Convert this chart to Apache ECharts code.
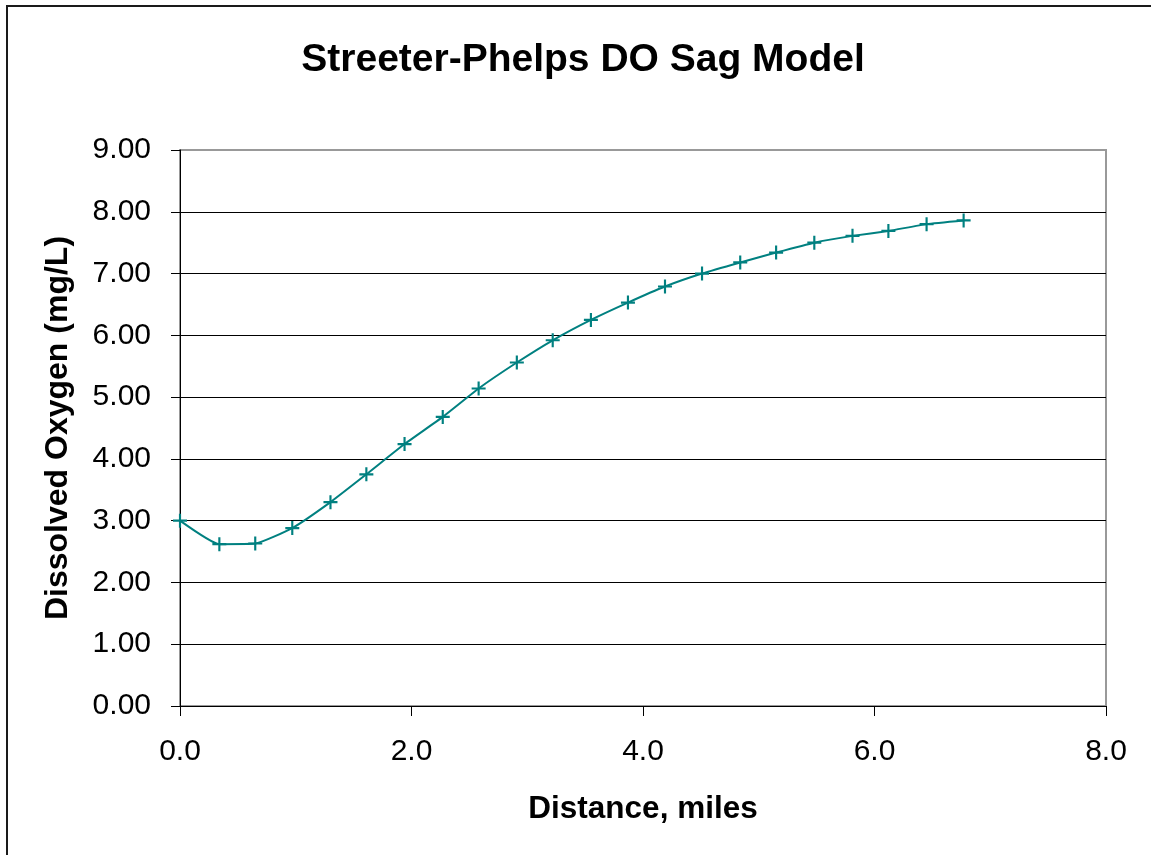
<!DOCTYPE html>
<html>
<head>
    <meta charset="utf-8">
    <title>Streeter-Phelps DO Sag Model</title>
    <script src="https://cdn.jsdelivr.net/npm/echarts@6/dist/echarts.min.js"></script>
    <style>
        html, body { margin: 0; padding: 0; background: #fff; }
        #main { width: 1151px; height: 855px; }
    </style>
</head>
<body>
<div id="main"></div>
<script type="text/javascript">
// distance downstream (miles) and dissolved oxygen (mg/L)
var distance = [0.00, 0.34, 0.65, 0.97, 1.30, 1.61, 1.94, 2.27, 2.58, 2.91, 3.22,
                3.55, 3.87, 4.19, 4.51, 4.84, 5.15, 5.48, 5.81, 6.12, 6.45, 6.77];
var oxygen = [3.00, 2.62, 2.63, 2.88, 3.30, 3.75, 4.24, 4.68, 5.14, 5.56, 5.92,
              6.25, 6.53, 6.79, 7.00, 7.18, 7.34, 7.50, 7.61, 7.69, 7.80, 7.86];

var titleText = 'Streeter-Phelps DO Sag Model';
var xName = 'Distance, miles';
var yName = 'Dissolved Oxygen (mg/L)';

var font = '"Liberation Sans", Arial, sans-serif';
var teal = '#008080';

var points = [];
for (var i = 0; i < distance.length; i++) {
    points.push([distance[i], oxygen[i]]);
}

var myChart = echarts.init(document.getElementById('main'));
var option = {
    backgroundColor: '#fff',
    animation: false,
    title: {
        text: titleText,
        left: 578,
        textAlign: 'center',
        top: 36,
        textStyle: { fontFamily: font, fontSize: 39, fontWeight: 'bold', color: '#000' }
    },
    graphic: [{
        type: 'rect',
        shape: { x: 7, y: 6, width: 1170, height: 900 },
        style: { fill: 'none', stroke: '#1a1a1a', lineWidth: 2 },
        silent: true
    }],
    grid: {
        left: 180, top: 150, right: 45, bottom: 149,
        show: true, borderColor: '#999', borderWidth: 2,
        containLabel: false
    },
    xAxis: {
        type: 'value',
        min: 0, max: 8, interval: 2,
        name: xName,
        nameLocation: 'middle',
        nameGap: 87,
        nameTextStyle: { fontFamily: font, fontSize: 31.5, fontWeight: 'bold', color: '#000' },
        axisLine: { show: true, onZero: false, lineStyle: { color: '#000', width: 1 } },
        axisTick: { show: true, inside: false, length: 10, lineStyle: { color: '#000' } },
        axisLabel: {
            margin: 31, fontFamily: font, fontSize: 30, color: '#000',
            formatter: function (v) { return v.toFixed(1); }
        },
        splitLine: { show: false }
    },
    yAxis: {
        type: 'value',
        min: 0, max: 9, interval: 1,
        name: yName,
        nameLocation: 'middle',
        nameGap: 106,
        nameTextStyle: { fontFamily: font, fontSize: 32, fontWeight: 'bold', color: '#000' },
        axisLine: { show: true, onZero: false, lineStyle: { color: '#000', width: 1 } },
        axisTick: { show: true, inside: false, length: 9, lineStyle: { color: '#000' } },
        axisLabel: {
            margin: 29, fontFamily: font, fontSize: 30, color: '#000',
            formatter: function (v) { return v.toFixed(2); }
        },
        splitLine: { show: true, showMaxLine: false, lineStyle: { color: '#000', width: 1 } }
    },
    series: [{
        type: 'line',
        data: points,
        smooth: 0.15,
        symbol: 'path://M5.5,0H7.5V5.5H13V7.5H7.5V13H5.5V7.5H0V5.5H5.5Z',
        symbolSize: 14,
        showAllSymbol: true,
        lineStyle: { color: teal, width: 2 },
        itemStyle: { color: teal },
        emphasis: { disabled: true }
    }]
};
myChart.setOption(option);
window.onresize = myChart.resize;
</script>
</body>
</html>
